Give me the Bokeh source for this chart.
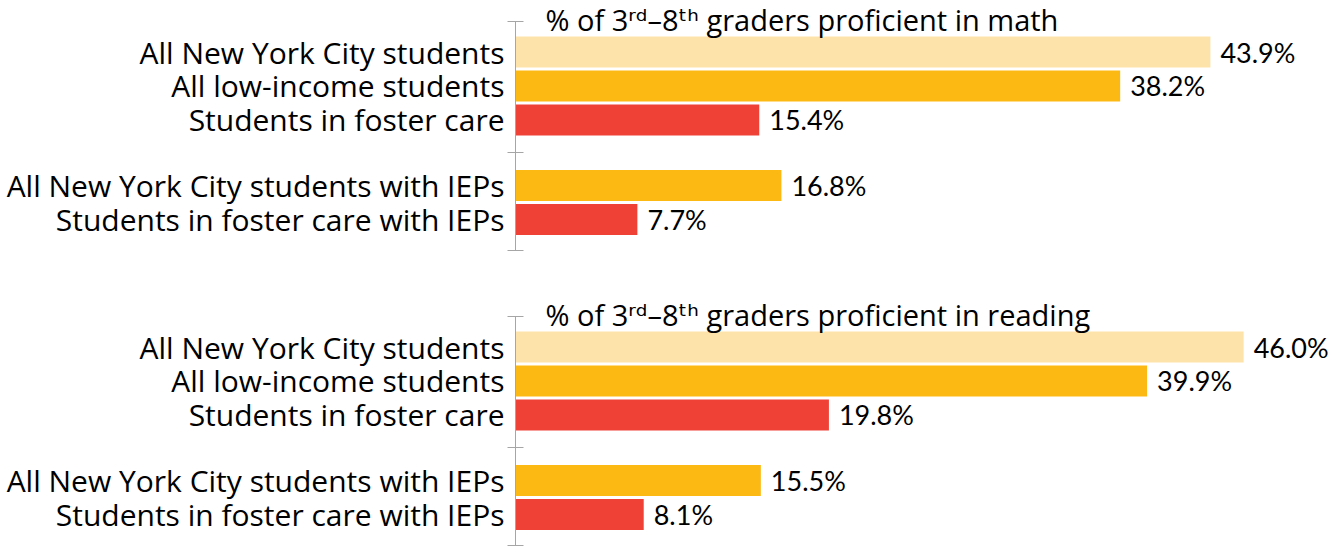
from bokeh.plotting import figure
from bokeh.models import ColumnDataSource, Range1d, FixedTicker, LabelSet, Label
from bokeh.layouts import column
from bokeh.core.properties import value
from bokeh.embed import file_html
from bokeh.resources import INLINE

categories = [
    "All New York City students",
    "All low-income students",
    "Students in foster care",
    "All New York City students with IEPs",
    "Students in foster care with IEPs",
]
math_values = [43.9, 38.2, 15.4, 16.8, 7.7]
reading_values = [46.0, 39.9, 19.8, 15.5, 8.1]
bar_colors = ["#FDE3AA", "#FDB913", "#EF4136", "#FDB913", "#EF4136"]
titles = [
    "% of 3ʳᵈ–8ᵗʰ graders proficient in math",
    "% of 3ʳᵈ–8ᵗʰ graders proficient in reading",
]

LABEL_FONT = "Open Sans"
TITLE_FONT = "Open Sans, DejaVu Sans"
NUM_FONT = "Lato"
PX_PER_ROW = 34.0
GAP = 0.93          # extra space between the two groups (in row units)
FIRST_GROUP = 3
rows = [i + (GAP if i >= FIRST_GROUP else 0) for i in range(len(categories))]
top_edge = -0.9
bottom_edge = rows[-1] + 0.91
sep = (rows[FIRST_GROUP - 1] + rows[FIRST_GROUP]) / 2


def make_panel(vals, title, head_px, border_bottom, height):
    range_top = top_edge - head_px / PX_PER_ROW
    src = ColumnDataSource(dict(
        y=rows, v=vals, c=bar_colors,
        t=[f"{x:.1f}%" for x in vals],
    ))
    p = figure(width=1334, height=height,
               x_range=Range1d(0, 51.74),
               y_range=Range1d(bottom_edge + 0.005, range_top),
               output_backend="svg", toolbar_location=None,
               min_border_left=515, min_border_right=0,
               min_border_top=0, min_border_bottom=border_bottom,
               outline_line_color=None, background_fill_color="white",
               border_fill_color="white")
    p.hbar(y="y", left=0, right="v", height=0.91, fill_color="c",
           line_color=None, source=src)
    p.xaxis.visible = False
    p.xgrid.visible = False
    p.ygrid.visible = False
    ax = p.yaxis[0]
    ax.bounds = (top_edge, bottom_edge)
    ax.ticker = FixedTicker(ticks=rows, minor_ticks=[top_edge, sep, bottom_edge])
    ax.major_label_overrides = {r: c for r, c in zip(rows, categories)}
    ax.major_tick_in = 0
    ax.major_tick_out = 0
    ax.minor_tick_in = 8
    ax.minor_tick_out = 8
    ax.minor_tick_line_color = "#A6A6A6"
    ax.axis_line_color = "#A6A6A6"
    ax.major_label_standoff = 3
    ax.major_label_text_font = LABEL_FONT
    ax.major_label_text_font_size = "30px"
    ax.major_label_text_color = "black"
    labels = LabelSet(x="v", y="y", text="t", source=src, x_offset=10,
                      text_baseline="middle", text_font=value(NUM_FONT),
                      text_font_size="27px", text_color="black")
    p.add_layout(labels)
    p.add_layout(Label(x=0, y=top_edge - 2 / PX_PER_ROW, x_offset=30, text=title,
                       text_font=TITLE_FONT, text_font_size="29px",
                       text_baseline="alphabetic", text_color="black"))
    return p


p1 = make_panel(math_values, titles[0], 21, 33, 283)
p2 = make_panel(reading_values, titles[1], 33, 1, 263)
layout = column(p1, p2, spacing=0)

open("out.html", "w").write(file_html(layout, INLINE))
